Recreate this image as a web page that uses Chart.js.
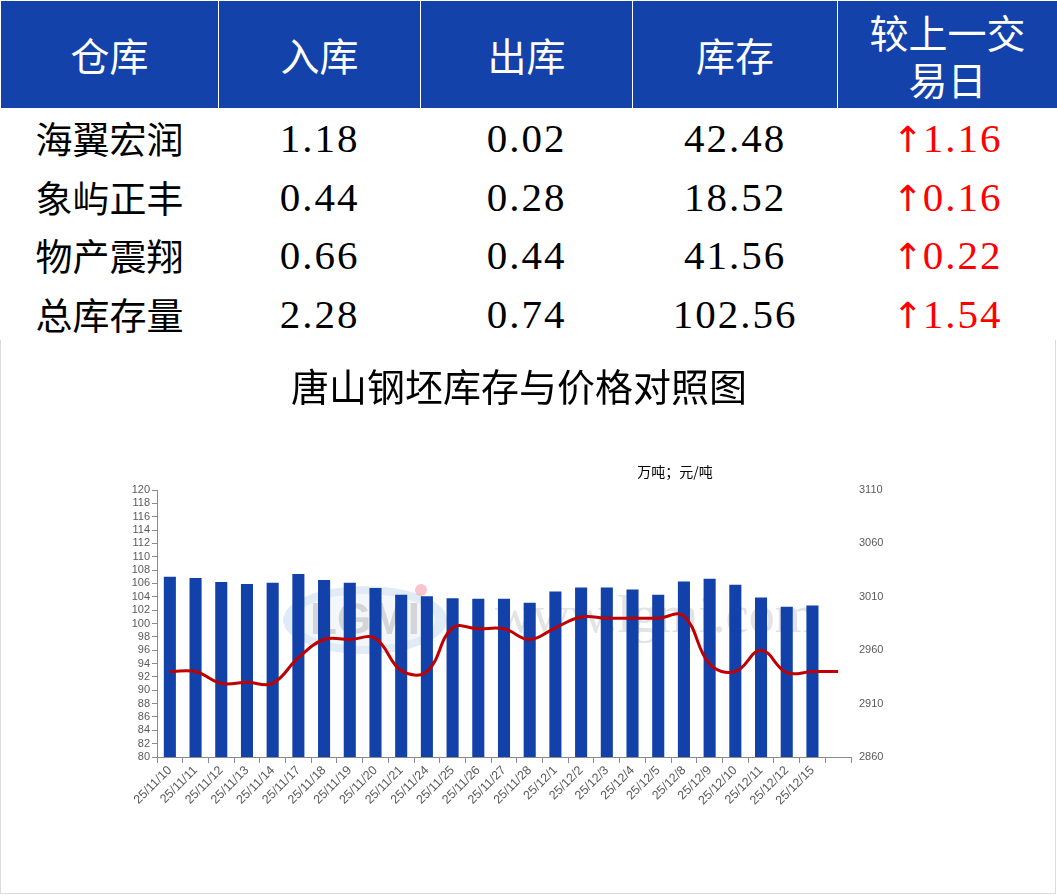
<!DOCTYPE html>
<html>
<head>
<meta charset="utf-8">
<script src="https://cdn.jsdelivr.net/npm/chart.js@4.4.1/dist/chart.umd.min.js"></script>
<style>
  html,body{margin:0;padding:0;background:#fff;width:1057px;height:895px;overflow:hidden;}
  #tbl{position:absolute;left:0;top:0;width:1057px;border-collapse:collapse;table-layout:fixed;}
  #tbl th{background:#1342AA;color:#fff;font-family:"Noto Sans CJK SC",sans-serif;font-weight:normal;font-size:39px;line-height:47px;height:107px;padding:0;border-left:1px solid #fff;border-right:1px solid #fff;border-top:1px solid #fff;}
  #tbl td{height:58.5px;padding:0;text-align:center;font-size:38px;color:#000;}
  #tbl tr:first-child td{padding-top:1px;}
  #tbl td.name{font-family:"Noto Sans CJK SC",sans-serif;font-size:37px;}
  #tbl td.num{font-family:"Liberation Serif","DejaVu Serif",serif;font-size:41px;letter-spacing:2px;}
  #tbl td.chg{color:#ff0000;}
  #box{position:absolute;left:0;top:340px;width:1054px;height:553px;border-left:1px solid #dcdcdc;border-right:1px solid #dcdcdc;border-bottom:1px solid #dcdcdc;background:#fff;}
</style>
</head>
<body>
<table id="tbl">
  <colgroup><col style="width:218px"><col style="width:202px"><col style="width:212px"><col style="width:205px"><col style="width:220px"></colgroup>
  <thead><tr id="hdr"></tr></thead>
  <tbody id="tb"></tbody>
</table>
<div id="box"><canvas id="c" width="1054" height="553"></canvas></div>
<script>
// ---- table data ----
const headers = ['仓库','入库','出库','库存','较上一交<br>易日'];
const warehouses = ['海翼宏润','象屿正丰','物产震翔','总库存量'];
const inbound = ['1.18','0.44','0.66','2.28'];
const outbound = ['0.02','0.28','0.44','0.74'];
const stock = ['42.48','18.52','41.56','102.56'];
const change = ['1.16','0.16','0.22','1.54'];

// ---- chart data ----
const chartTitle = '唐山钢坯库存与价格对照图';
const unitLabel = '万吨；元/吨';
const dates = ['25/11/10','25/11/11','25/11/12','25/11/13','25/11/14','25/11/17','25/11/18','25/11/19','25/11/20','25/11/21','25/11/24','25/11/25','25/11/26','25/11/27','25/11/28','25/12/1','25/12/2','25/12/3','25/12/4','25/12/5','25/12/8','25/12/9','25/12/10','25/12/11','25/12/12','25/12/15',''];
const inventory = [107.0,106.8,106.2,105.9,106.1,107.4,106.5,106.1,105.3,104.3,104.1,103.8,103.7,103.7,103.1,104.8,105.4,105.4,105.1,104.3,106.3,106.7,105.8,103.9,102.5,102.7,null];
const price = [2940,2940,2929,2930,2929,2953,2970,2970,2971,2941,2940,2981,2980,2980,2970,2981,2991,2990,2990,2990,2992,2947,2940,2960,2939,2940,2940];
const leftTicks = {min:80, max:120, step:2};
const rightTicks = {min:2860, max:3110, step:50};

// build table
const hdr = document.getElementById('hdr');
headers.forEach(h => { const th = document.createElement('th'); th.innerHTML = h; hdr.appendChild(th); });
const tb = document.getElementById('tb');
warehouses.forEach((w,i) => {
  const tr = document.createElement('tr');
  tr.innerHTML = '<td class="name">'+w+'</td><td class="num">'+inbound[i]+'</td><td class="num">'+outbound[i]+'</td><td class="num">'+stock[i]+'</td><td class="num chg"><span style="font-family:DejaVu Sans;font-size:36px;letter-spacing:0">↑</span>'+change[i]+'</td>';
  tb.appendChild(tr);
});

const decor = {
  id:'decor',
  beforeDatasetsDraw(chart){
    const ctx = chart.ctx, a = chart.chartArea;
    ctx.save();
    const cx = a.left + 208, cy = a.top + 130;
    ctx.fillStyle = 'rgba(195,215,238,0.5)';
    ctx.beginPath(); ctx.ellipse(cx, cy, 82, 34, 0, 0, Math.PI*2); ctx.fill();
    ctx.fillStyle = 'rgba(255,255,255,0.6)';
    ctx.beginPath(); ctx.ellipse(cx, cy, 70, 26, 0, 0, Math.PI*2); ctx.fill();
    ctx.font = 'bold 44px "Liberation Sans"';
    ctx.textAlign = 'center'; ctx.textBaseline = 'middle';
    ctx.fillStyle = 'rgba(185,185,185,0.55)';
    ctx.fillText('LGMI', cx, cy + 2);
    ctx.fillStyle = 'rgba(240,150,160,0.55)';
    ctx.beginPath(); ctx.arc(cx + 56, cy - 30, 6, 0, Math.PI*2); ctx.fill();
    ctx.font = '52px "Liberation Serif"';
    ctx.fillStyle = 'rgba(200,200,200,0.5)';
    ctx.textAlign = 'left';
    ctx.fillText('www.lgmi.com', a.left + 338, a.top + 128);
    ctx.restore();
  },
  afterDraw(chart){
    const ctx = chart.ctx;
    ctx.save();
    ctx.fillStyle = '#000';
    ctx.textAlign = 'center'; ctx.textBaseline = 'middle';
    ctx.font = '38px "Noto Sans CJK SC"';
    ctx.fillText(chartTitle, 518, 47);
    ctx.font = '14px "Noto Sans CJK SC"';
    ctx.fillText(unitLabel, 674, 132);
    ctx.restore();
  }
};

const tickFont = {family:'"Liberation Sans"', size:11};
new Chart(document.getElementById('c'), {
  data: {
    labels: dates,
    datasets: [
      {type:'line', data: price, yAxisID:'y1', borderColor:'#C00000', borderWidth:3, pointRadius:0, tension:0.4, order:1, fill:false},
      {type:'bar', data: inventory, yAxisID:'y', backgroundColor:'#1241AA', barPercentage:0.47, categoryPercentage:1, order:2}
    ]
  },
  options: {
    responsive:false, animation:false,
    layout:{padding:{top:150, left:0, right:0, bottom:0}},
    plugins:{legend:{display:false}, title:{display:false}, tooltip:{enabled:false}},
    scales:{
      x:{
        grid:{display:true, drawOnChartArea:false, drawTicks:true, tickLength:6, color:'#8a8a8a', offset:true},
        border:{display:true, color:'#8a8a8a', width:1},
        ticks:{autoSkip:false, minRotation:45, maxRotation:45, color:'#5a5a5a', font:{family:'"Liberation Sans"', size:12.5}, padding:0},
        afterFit(s){ s.height = 136; }
      },
      y:{
        position:'left', min:leftTicks.min, max:leftTicks.max,
        ticks:{stepSize:leftTicks.step, autoSkip:false, color:'#5a5a5a', font:tickFont, padding:2, callback:v=>String(v)},
        grid:{display:true, drawOnChartArea:false, drawTicks:true, tickLength:5, color:'#8a8a8a'},
        border:{display:true, color:'#8a8a8a', width:1},
        afterFit(s){ s.width = 156; }
      },
      y1:{
        position:'right', min:rightTicks.min, max:rightTicks.max,
        ticks:{stepSize:rightTicks.step, autoSkip:false, color:'#5a5a5a', font:tickFont, padding:0, callback:v=>String(v)},
        grid:{display:false},
        border:{display:false},
        afterFit(s){ s.width = 204; }
      }
    }
  },
  plugins:[decor]
});
</script>
</body>
</html>
